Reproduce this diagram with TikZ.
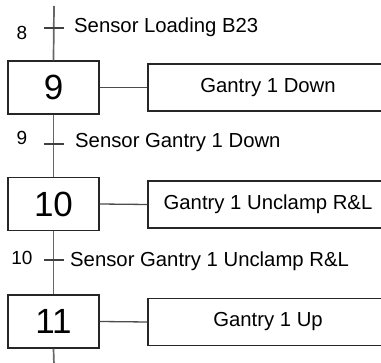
\documentclass[tikz,border=0pt]{standalone}
\usepackage{fontspec}
\setmainfont{Liberation Sans}
\begin{document}
\begin{tikzpicture}[x=1pt,y=-1pt,
  stepbox/.style={draw=black!85,line width=1.3pt,minimum width=91pt,minimum height=53pt,inner sep=0pt,font=\fontsize{35}{35}\selectfont,text=black},
  actbox/.style={draw=black!85,line width=1.3pt,minimum width=240pt,minimum height=47pt,inner sep=0pt,font=\fontsize{20.3}{21}\selectfont,text=black},
  rail/.style={draw=black!60,line width=1.7pt},
  link/.style={draw=black!70,line width=1.3pt},
  tick/.style={draw=black!75,line width=1.2pt},
  lbl/.style={font=\fontsize{20.3}{21}\selectfont,text=black,inner sep=0pt},
  num/.style={font=\fontsize{19}{20}\selectfont,text=black,inner sep=0pt}]
\useasboundingbox (0,0) rectangle (381,363);
\clip (0,0) rectangle (381,363);
\node[stepbox] (s9) at (53.5,87.5) {9};
\node[stepbox] (s10) at (53.5,204) {10};
\node[stepbox] (s11) at (53.5,321.5) {11};
\node[actbox] (a9) at (268,87.5) {Gantry 1 Down};
\node[actbox] (a10) at (268,204.5) {Gantry 1 Unclamp R\&L};
\node[actbox] (a11) at (268,322) {Gantry 1 Up};
\coordinate (top) at (54,6);
\coordinate (bot) at (54,365);
\draw[rail] (top) -- (s9.north);
\draw[rail] (s9.south) -- (s10.north);
\draw[rail] (s10.south) -- (s11.north);
\draw[rail] (s11.south) -- (bot);
\draw[link] (s9.east) -- (a9.west);
\draw[link] (s10.east) -- (a10.west);
\draw[link] (s11.east) -- (a11.west);
% transitions
\coordinate (t8l) at (44,28); \coordinate (t8r) at (64,28);
\coordinate (t9l) at (44,144); \coordinate (t9r) at (64,144);
\coordinate (t10l) at (44,260); \coordinate (t10r) at (64,260);
\draw[tick] (t8l) -- (t8r);
\draw[tick] (t9l) -- (t9r);
\draw[tick] (t10l) -- (t10r);
\node[num] (n8) at (22,33) {8};
\node[num] (n9) at (22,138) {9};
\node[num] (n10) at (22,258) {10};
\node[lbl,anchor=base west] (c8) at (74,33) {Sensor Loading B23};
\node[lbl,anchor=base west] (c9) at (75,148) {Sensor Gantry 1 Down};
\node[lbl,anchor=base west] (c10) at (70,267) {Sensor Gantry 1 Unclamp R\&L};
\end{tikzpicture}
\end{document}
